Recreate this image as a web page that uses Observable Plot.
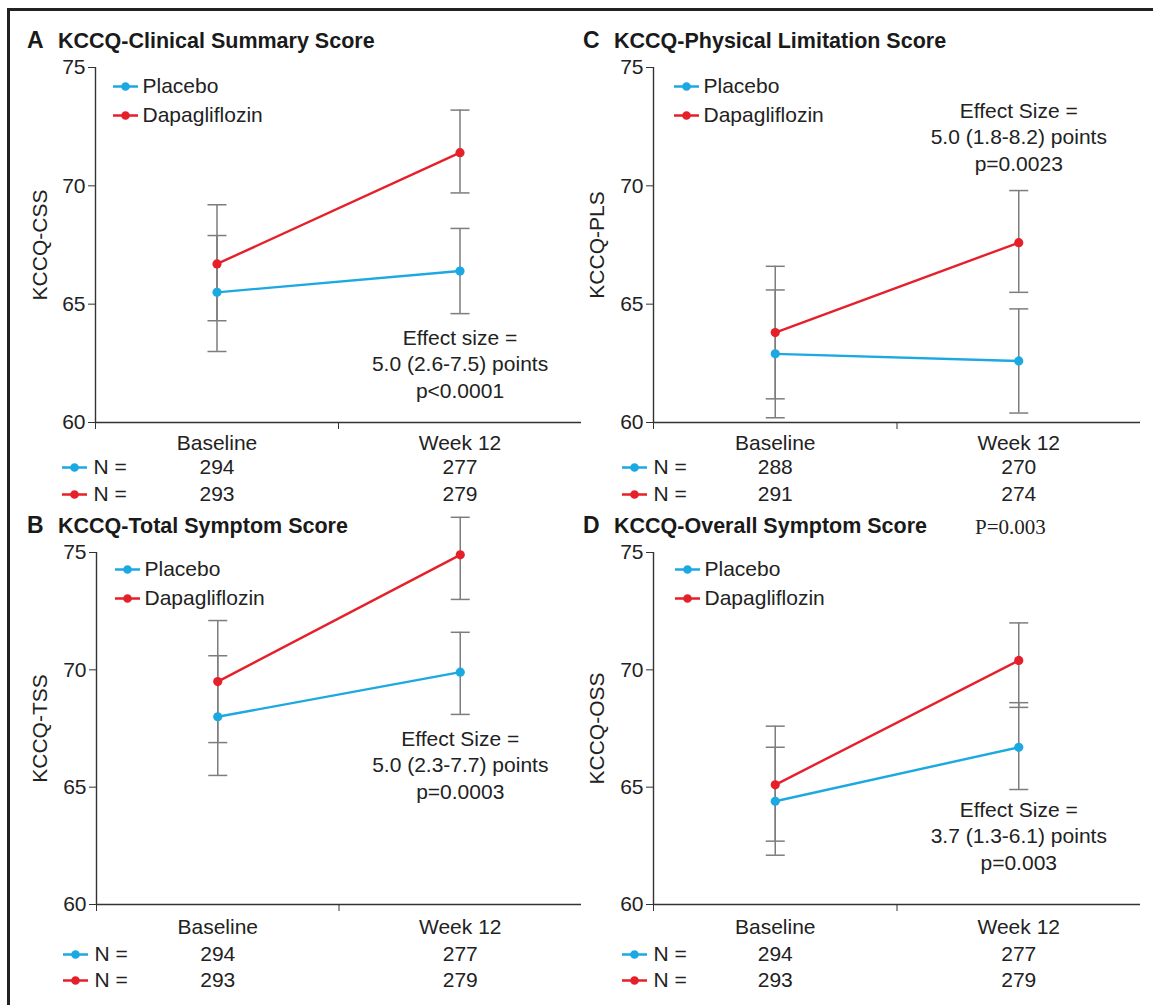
<!DOCTYPE html>
<html><head><meta charset="utf-8">
<script src="https://cdn.jsdelivr.net/npm/d3@7"></script>
<script src="https://cdn.jsdelivr.net/npm/@observablehq/plot@0.6"></script>
<style>
html,body{margin:0;padding:0;background:#fff;overflow:hidden;}
#fig{position:relative;width:1153px;height:1005px;overflow:hidden;font-family:"Liberation Sans",Arial,sans-serif;color:#222;background:#fff;}
#frame{position:absolute;left:7px;top:8px;width:1170px;height:1030px;border:3px solid #222;box-sizing:border-box;}
.panel{position:absolute;}
.title{position:absolute;font-weight:bold;font-size:21.5px;line-height:26px;white-space:nowrap;color:#1a1a1a;}
.title .letter{font-size:23px;display:inline-block;width:31px;}
.pnote{position:absolute;font-family:"Liberation Serif","Times New Roman",serif;font-size:21px;line-height:22px;color:#222;white-space:nowrap;}
</style></head>
<body>
<div id="fig"><div id="frame"></div></div>
<script>
// ---------- data ----------
const timepoints = ["Baseline", "Week 12"];
const groups = ["Placebo", "Dapagliflozin"];
const yTicks = [60, 65, 70, 75];

// A: KCCQ-Clinical Summary Score
const cssPlaceboMean = [65.5, 66.4];
const cssPlaceboLo   = [63.0, 64.6];
const cssPlaceboHi   = [67.9, 68.2];
const cssDapaMean    = [66.7, 71.4];
const cssDapaLo      = [64.3, 69.7];
const cssDapaHi      = [69.2, 73.2];
const cssPlaceboN    = [294, 277];
const cssDapaN       = [293, 279];

// B: KCCQ-Total Symptom Score
const tssPlaceboMean = [68.0, 69.9];
const tssPlaceboLo   = [65.5, 68.1];
const tssPlaceboHi   = [70.6, 71.6];
const tssDapaMean    = [69.5, 74.9];
const tssDapaLo      = [66.9, 73.0];
const tssDapaHi      = [72.1, 76.5];
const tssPlaceboN    = [294, 277];
const tssDapaN       = [293, 279];

// C: KCCQ-Physical Limitation Score
const plsPlaceboMean = [62.9, 62.6];
const plsPlaceboLo   = [60.2, 60.4];
const plsPlaceboHi   = [65.6, 64.8];
const plsDapaMean    = [63.8, 67.6];
const plsDapaLo      = [61.0, 65.5];
const plsDapaHi      = [66.6, 69.8];
const plsPlaceboN    = [288, 270];
const plsDapaN       = [291, 274];

// D: KCCQ-Overall Symptom Score
const ossPlaceboMean = [64.4, 66.7];
const ossPlaceboLo   = [62.1, 64.9];
const ossPlaceboHi   = [66.7, 68.6];
const ossDapaMean    = [65.1, 70.4];
const ossDapaLo      = [62.7, 68.4];
const ossDapaHi      = [67.6, 72.0];
const ossPlaceboN    = [294, 277];
const ossDapaN       = [293, 279];

const effectA = "Effect size =\n5.0 (2.6-7.5) points\np<0.0001";
const effectB = "Effect Size =\n5.0 (2.3-7.7) points\np=0.0003";
const effectC = "Effect Size =\n5.0 (1.8-8.2) points\np=0.0023";
const effectD = "Effect Size =\n3.7 (1.3-6.1) points\np=0.003";

// ---------- styles ----------
const BLUE = "#1ca9e1", RED = "#e6202a", GREY = "#7d7d7d", INK = "#222";
const FONT = "'Liberation Sans', Arial, sans-serif";
const FS = 21;

const capSymbol = {draw(ctx) { ctx.moveTo(-9.5, 0); ctx.lineTo(9.5, 0); }};
const glyphSymbol = {draw(ctx) {
  ctx.moveTo(-12.5, 0); ctx.lineTo(12.5, 0);
  ctx.moveTo(3.2, 0); ctx.arc(0, 0, 3.2, 0, 2 * Math.PI);
}};

function rowsFor(series) {
  const rows = [];
  series.forEach(s => timepoints.forEach((t, i) => rows.push({
    group: s.group, time: t, xi: i + 0.5, mean: s.mean[i], lo: s.lo[i], hi: s.hi[i], n: s.n[i]
  })));
  return rows;
}

function panel(cfg) {
  const rows = rowsFor(cfg.series);
  const legendMarks = groups.flatMap((g, i) => [
    Plot.dot([g], {frameAnchor: "top-left", dx: cfg.legDx, dy: cfg.legDy + 29 * i, symbol: glyphSymbol, fill: d => d, stroke: d => d, strokeWidth: 2.3}),
    Plot.text([g], {frameAnchor: "top-left", dx: cfg.legDx + 17, dy: cfg.legDy + 29 * i, textAnchor: "start", lineAnchor: "middle", fontSize: FS, fill: INK})
  ]);
  const nMarks = groups.flatMap((g, i) => [
    Plot.dot([g], {frameAnchor: "bottom-left", dx: cfg.nDx, dy: cfg.nDy + cfg.nGap * i, symbol: glyphSymbol, fill: d => d, stroke: d => d, strokeWidth: 2.3}),
    Plot.text(["N ="], {frameAnchor: "bottom-left", dx: cfg.nDx + 19, dy: cfg.nDy + cfg.nGap * i, textAnchor: "start", lineAnchor: "middle", fontSize: FS, fill: INK}),
    Plot.text(rows.filter(r => r.group === g), {x: "xi", text: "n", frameAnchor: "bottom", dy: cfg.nDy + cfg.nGap * i, lineAnchor: "middle", fontSize: FS, fill: INK})
  ]);
  const week12 = timepoints.indexOf("Week 12") + 0.5;
  const svg = Plot.plot({
    width: cfg.width, height: cfg.height,
    marginLeft: cfg.mL, marginRight: cfg.mR, marginTop: cfg.mT, marginBottom: cfg.mB,
    x: {domain: [0, timepoints.length]},
    y: {domain: [60, 75]},
    color: {domain: groups, range: [BLUE, RED]},
    style: {fontFamily: FONT, fontSize: FS + "px", color: INK, background: "transparent", overflow: "visible"},
    marks: [
      Plot.ruleY([60], {stroke: "#333", strokeWidth: 1.4}),
      Plot.ruleX([0], {stroke: "#333", strokeWidth: 1.4}),
      Plot.axisY({ticks: yTicks, tickSize: 7, tickPadding: 3, fontSize: FS, label: null, stroke: "#333"}),
      Plot.axisX({ticks: [0, 1], tickSize: 7, tickFormat: () => "", label: null, stroke: "#333"}),
      Plot.axisX({ticks: timepoints.map((t, i) => i + 0.5), tickSize: 0, tickPadding: cfg.xPad, fontSize: FS,
                  tickFormat: v => timepoints[Math.floor(v)], label: null}),
      Plot.text([cfg.ylabel], {frameAnchor: "left", dx: cfg.yLabDx, rotate: -90, textAnchor: "middle", lineAnchor: "middle", fontSize: FS, fill: INK}),
      Plot.line(rows, {x: "xi", y: "mean", stroke: "group", z: "group", strokeWidth: 2.4}),
      Plot.ruleX(rows, {x: "xi", y1: "lo", y2: "hi", stroke: GREY, strokeWidth: 1.5}),
      Plot.dot(rows, {x: "xi", y: "lo", symbol: capSymbol, stroke: GREY, strokeWidth: 1.5}),
      Plot.dot(rows, {x: "xi", y: "hi", symbol: capSymbol, stroke: GREY, strokeWidth: 1.5}),
      Plot.dot(rows, {x: "xi", y: "mean", fill: "group", r: 4.6}),
      Plot.text([cfg.effect], {x: () => week12, frameAnchor: "top", dy: cfg.effDy, lineAnchor: "top", lineHeight: 1.25, fontSize: FS, fill: INK}),
      ...legendMarks,
      ...nMarks
    ]
  });
  const wrap = document.createElement("div");
  wrap.className = "panel";
  wrap.style.left = cfg.left + "px";
  wrap.style.top = cfg.top + "px";
  wrap.appendChild(svg);
  document.getElementById("fig").appendChild(wrap);

  const t = document.createElement("div");
  t.className = "title";
  t.style.left = cfg.titleX + "px";
  t.style.top = cfg.titleY + "px";
  t.innerHTML = `<span class="letter">${cfg.letter}</span>${cfg.title}`;
  document.getElementById("fig").appendChild(t);
}

const ser = (pm, pl, ph, pn, dm, dl, dh, dn) => [
  {group: "Placebo", mean: pm, lo: pl, hi: ph, n: pn},
  {group: "Dapagliflozin", mean: dm, lo: dl, hi: dh, n: dn}
];

const topCfg = {height: 510, mT: 67, mB: 88, xPad: 12.5, nDy: 45, nGap: 27, legDy: 19};
const botCfg = {height: 505, mT: 552 - 500, mB: 1005 - 904, xPad: 15, nDy: 50, nGap: 26, legDy: 17};

panel({...topCfg, left: 0, top: 0, width: 585, mL: 95, mR: 4, legDx: 30, nDx: -21, yLabDx: -55,
  titleX: 27, titleY: 27, letter: "A", title: "KCCQ-Clinical Summary Score", ylabel: "KCCQ-CSS", effect: effectA, effDy: 259,
  series: ser(cssPlaceboMean, cssPlaceboLo, cssPlaceboHi, cssPlaceboN, cssDapaMean, cssDapaLo, cssDapaHi, cssDapaN)});
panel({...botCfg, left: 0, top: 500, width: 585, mL: 96, mR: 4, legDx: 31, nDx: -21, yLabDx: -56,
  titleX: 27, titleY: 512, letter: "B", title: "KCCQ-Total Symptom Score", ylabel: "KCCQ-TSS", effect: effectB, effDy: 175,
  series: ser(tssPlaceboMean, tssPlaceboLo, tssPlaceboHi, tssPlaceboN, tssDapaMean, tssDapaLo, tssDapaHi, tssDapaN)});
panel({...topCfg, left: 585, top: 0, width: 568, mL: 68, mR: 13, legDx: 33, nDx: -19, yLabDx: -56,
  titleX: 583, titleY: 27, letter: "C", title: "KCCQ-Physical Limitation Score", ylabel: "KCCQ-PLS", effect: effectC, effDy: 32,
  series: ser(plsPlaceboMean, plsPlaceboLo, plsPlaceboHi, plsPlaceboN, plsDapaMean, plsDapaLo, plsDapaHi, plsDapaN)});
panel({...botCfg, left: 585, top: 500, width: 568, mL: 68, mR: 13, legDx: 34, nDx: -19, yLabDx: -56,
  titleX: 583, titleY: 512, letter: "D", title: "KCCQ-Overall Symptom Score", ylabel: "KCCQ-OSS", effect: effectD, effDy: 246,
  series: ser(ossPlaceboMean, ossPlaceboLo, ossPlaceboHi, ossPlaceboN, ossDapaMean, ossDapaLo, ossDapaHi, ossDapaN)});

const note = document.createElement("div");
note.className = "pnote";
note.style.left = "975px";
note.style.top = "516px";
note.textContent = "P=0.003";
document.getElementById("fig").appendChild(note);
</script>
</body></html>
